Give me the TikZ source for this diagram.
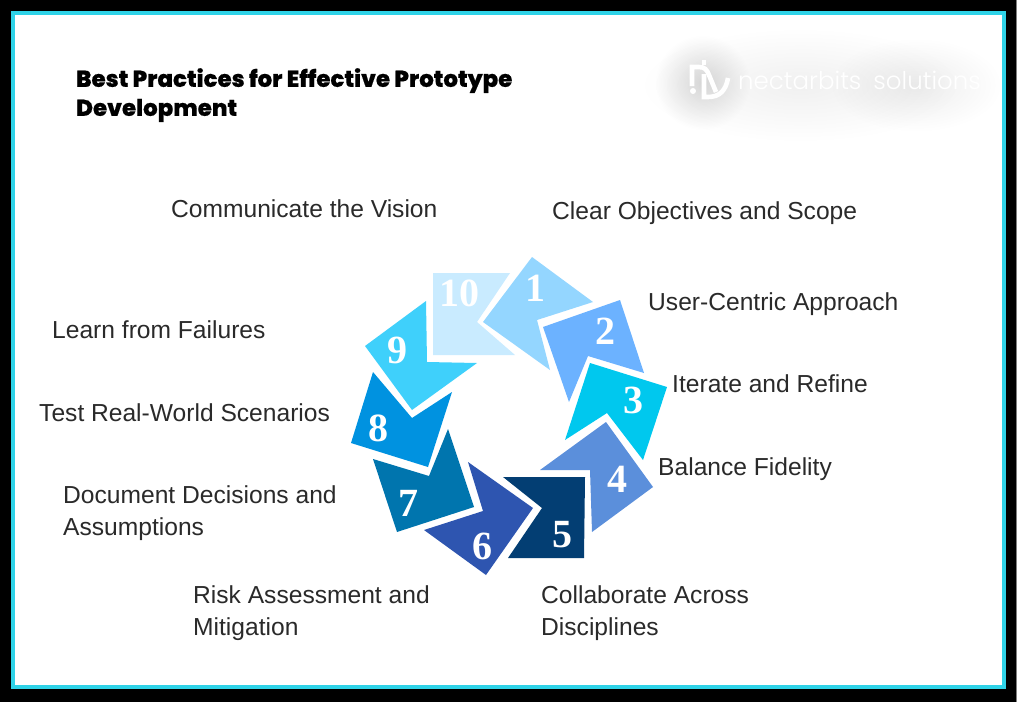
\documentclass[tikz,border=0pt]{standalone}
\usepackage{fontspec}
\usetikzlibrary{fadings}
\setmainfont{Liberation Sans}
\newfontfamily\titlefont[FakeBold=0.5]{Poppins ExtraBold}
\newfontfamily\numfont{Liberation Serif}
\newfontfamily\logofont{Poppins Light}
\definecolor{frameline}{HTML}{2FD3E8}
\definecolor{labeltext}{HTML}{2A2A2A}
\definecolor{arrowa}{HTML}{94D6FF}
\definecolor{arrowb}{HTML}{6CB2FF}
\definecolor{arrowc}{HTML}{00C8EE}
\definecolor{arrowd}{HTML}{5B8FDB}
\definecolor{arrowe}{HTML}{033E73}
\definecolor{arrowf}{HTML}{2E55B0}
\definecolor{arrowg}{HTML}{0075AE}
\definecolor{arrowh}{HTML}{0092E0}
\definecolor{arrowi}{HTML}{3FD0FB}
\definecolor{arrowj}{HTML}{C9EBFF}
\tikzfading[name=softglow, inner color=transparent!0, outer color=transparent!100]
\tikzset{
    steplabel/.style={anchor=west, align=left, inner sep=0pt, text=labeltext,
        font=\fontsize{24.6}{32}\selectfont},
    stepnum/.style={inner sep=0pt, text=white, font=\numfont\bfseries\fontsize{40}{40}\selectfont},
    glow/.style={fill=black, path fading=softglow},
    logostroke/.style={white, line width=4.6pt}
}
\begin{document}
\begin{tikzpicture}[x=1pt, y=-1pt]
    \useasboundingbox (0, 0) rectangle (1024, 702);
    \fill[white] (0, 0) rectangle (1024, 702);

    % frame
    \fill[black] (0, 0) rectangle (1016, 702);
    \fill[gray] (1016, 0) rectangle (1017, 702);
    \fill[white] (13, 13) rectangle (1004, 687);
    \draw[frameline, line width=4pt] (13, 13) rectangle (1004, 687);

    % logo
    \fill[glow, fill opacity=0.06] (640, 28) rectangle (960, 142);
    \fill[glow, fill opacity=0.07] (830, 38) rectangle (1002, 132);
    \fill[glow, fill opacity=0.14] (655, 35) rectangle (750, 130);
    \draw[logostroke] (692, 86) -- (692, 67) -- (699, 67) .. controls (705, 67) and (707, 70) .. (709, 75) -- (716, 92);
    \draw[logostroke] (704, 60) -- (704, 65);
    \fill[white] (693, 91) circle (3);
    \draw[logostroke] (704, 74) -- (704, 97) -- (708, 97) .. controls (720, 97) and (726, 90) .. (728, 78);
    \node[inner sep=0pt, anchor=west, text=white] (logotext) at (738, 80)
        {\logofont\fontsize{24.5}{24}\selectfont nectarbits\hspace{12pt}solutions};

    % title
    \node[anchor=north west, align=left, inner sep=0pt, font=\titlefont\fontsize{22.9}{29}\selectfont] (title) at (76, 68)
        {Best Practices for Effective Prototype\\ Development};

    % arrows
    \fill[arrowa] (532, 257) -- (593, 302) -- (537, 320) -- (550, 370) -- (483, 322) -- cycle;
    \fill[arrowb] (620, 300) -- (644, 373) -- (588, 356) -- (569, 402) -- (543, 327) -- cycle;
    \fill[arrowc] (590, 363) -- (667, 387) -- (643, 460) -- (607, 413) -- (565, 440) -- cycle;
    \fill[arrowd] (606, 422) -- (653, 487) -- (592, 532) -- (590, 470) -- (540, 470) -- cycle;
    \fill[arrowe] (503, 477) -- (585, 477) -- (584, 558) -- (508, 558) -- (542, 508) -- cycle;
    \fill[arrowf] (468, 462) -- (533, 508) -- (486, 575) -- (424, 530) -- (483, 511) -- cycle;
    \fill[arrowg] (448, 429) -- (474, 507) -- (397, 532) -- (373, 459) -- (429, 476) -- cycle;
    \fill[arrowh] (373, 372) -- (412, 418) -- (452, 392) -- (428, 467) -- (351, 443) -- cycle;
    \fill[arrowi] (426, 301) -- (427, 362) -- (477, 363) -- (412, 410) -- (365, 346) -- cycle;
    \fill[arrowj] (433, 273) -- (510, 273) -- (477, 322) -- (515, 355) -- (433, 355) -- cycle;

    \foreach \n/\px/\py in {1/535/288, 2/605/331, 3/633/400, 4/617/479, 5/562/535,
                            6/482/546, 7/408/503, 8/378/428, 9/397/350, 10/459/293}{
        \node[stepnum] (num\n) at (\px, \py) {\n};
    }

    % labels
    \node[steplabel] (vision) at (171, 209) {Communicate the Vision};
    \node[steplabel] (scope) at (552, 213) {Clear Objectives and Scope};
    \node[steplabel] (user) at (648, 304) {User-Centric Approach};
    \node[steplabel] (iterate) at (672, 384) {Iterate and Refine};
    \node[steplabel] (fidelity) at (658, 469) {Balance Fidelity};
    \node[steplabel] (across) at (541, 613) {Collaborate Across\\ Disciplines};
    \node[steplabel] (risk) at (193, 613) {Risk Assessment and\\ Mitigation};
    \node[steplabel] (document) at (63, 513) {Document Decisions and\\ Assumptions};
    \node[steplabel] (test) at (39, 413) {Test Real-World Scenarios};
    \node[steplabel] (learn) at (52, 330) {Learn from Failures};
\end{tikzpicture}
\end{document}
